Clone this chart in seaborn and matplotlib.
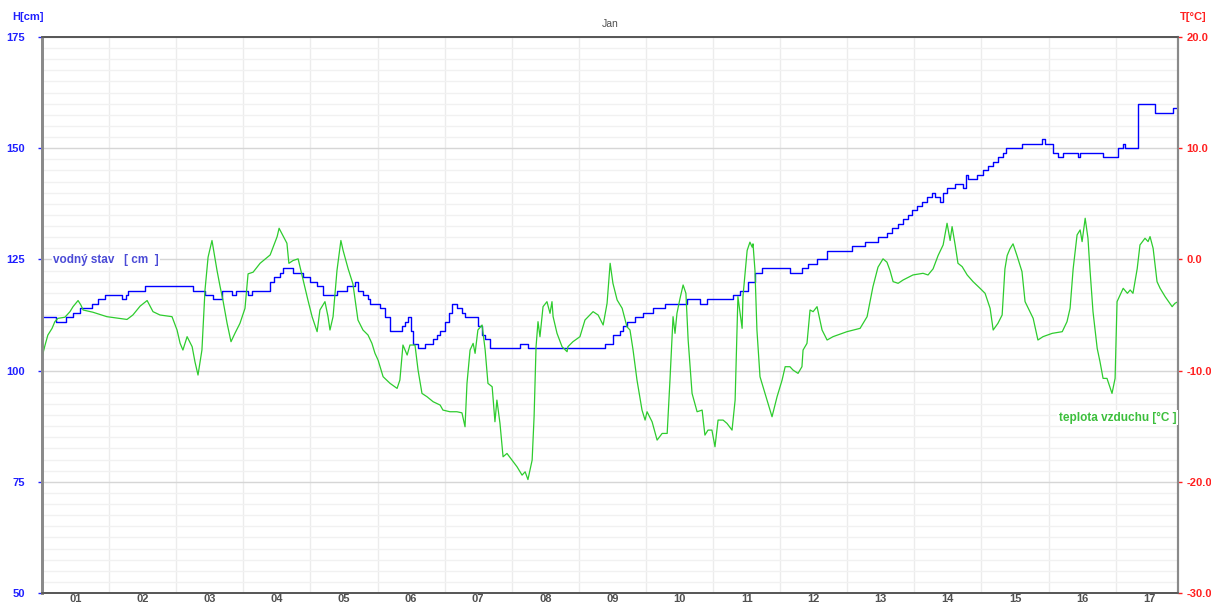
import matplotlib
matplotlib.use("Agg")
import pandas as pd
import matplotlib.pyplot as plt
import seaborn as sns
from matplotlib.ticker import MultipleLocator, FixedLocator

# water level (hours since 1 Jan 00:00, cm)
level_hours = [0, 5.0, 8.6, 11.1, 13.6, 17.9, 20.0, 22.5, 28.6, 30.0, 30.8, 36.8, 54.0, 58.3, 61.2,
               64.4, 68.0, 69.4, 73.7, 75.1, 81.6, 83.0, 85.1, 86.2, 89.8, 93.4, 95.9, 98.4, 100.5,
               105.5, 109.1, 112.0, 113.0, 114.8, 116.6, 117.3, 120.9, 122.7, 124.5, 128.8, 129.8,
               130.9, 132.0, 132.7, 134.5, 137.0, 139.9, 141.3, 142.4, 144.1, 145.6, 146.6, 148.4,
               150.2, 151.3, 155.9, 157.4, 158.5, 160.2, 171.0, 173.8, 201.4, 204.2, 206.7, 207.8,
               209.2, 212.1, 215.0, 218.5, 222.8, 230.7, 235.4, 237.9, 247.2, 249.7, 252.5, 255.0,
               257.5, 267.5, 271.8, 274.0, 277.2, 280.8, 289.7, 294.4, 299.0, 302.2, 304.0, 306.2,
               308.0, 309.8, 311.2, 313.0, 314.8, 316.5, 318.3, 319.4, 321.2, 322.3, 323.7, 326.6,
               329.4, 330.5, 331.2, 334.4, 336.6, 338.4, 340.2, 341.9, 343.7, 344.8, 350.5, 357.7,
               358.8, 361.6, 363.4, 365.2, 370.6, 371.3, 379.5, 384.9, 386.7, 387.4, 392.0, 398.1,
               404.5, 406.3]
level_cm = [112, 111, 112, 113, 114, 115, 116, 117, 116, 117, 118, 119, 118, 117, 116,
            118, 117, 118, 117, 118, 120, 121, 122, 123, 122, 121, 120, 119, 117,
            118, 119, 120, 118, 117, 116, 115, 114, 112, 109, 110, 111,
            112, 109, 106, 105, 106, 107, 108, 109, 111, 113, 115, 114,
            113, 112, 110, 108, 107, 105, 106, 105, 106, 108, 109, 110,
            111, 112, 113, 114, 115, 116, 115, 116, 117, 118, 120, 122,
            123, 122, 123, 124, 125, 127, 128, 129, 130, 131, 132, 133,
            134, 135, 136, 137, 138, 139, 140, 139, 138, 140, 141, 142,
            141, 144, 143, 144, 145, 146, 147, 148, 149, 150, 151, 152,
            151, 149, 148, 149, 148, 149, 148, 150, 151, 150, 160, 158,
            159, 159]

# air temperature (hours since 1 Jan 00:00, deg C)
temp_hours = [0, 1.1, 2.1, 3.6, 4.6, 5.7, 8.2, 10.0, 11.1, 12.9, 13.9, 14.7, 18.2, 23.2, 30.4,
              32.5, 35.1, 37.6, 39.7, 42.2, 46.5, 48.3, 49.4, 50.4, 51.9, 53.7, 54.7, 55.8, 57.2,
              58.3, 59.4, 60.8, 62.6, 63.7, 64.7, 66.2, 67.6, 69.0, 70.8, 72.6, 73.7, 75.5, 78.0,
              81.6, 84.1, 84.8, 87.6, 88.3, 89.8, 91.6, 93.4, 95.1, 96.6, 98.4, 99.4, 101.2, 102.3,
              103.0, 104.1, 105.5, 106.9, 107.7, 109.5, 111.2, 113.0, 114.8, 116.6, 118.0, 119.1,
              120.2, 122.0, 124.5, 127.0, 128.0, 129.1, 130.6, 131.6, 133.4, 134.5, 135.9, 137.7,
              139.9, 142.4, 143.4, 145.9, 148.4, 150.2, 151.3, 152.0, 153.1, 154.2, 154.9, 155.9,
              157.4, 158.5, 159.5, 161.0, 162.0, 162.7, 163.8, 164.9, 166.3, 168.1, 169.9, 171.7,
              172.8, 173.8, 175.3, 176.0, 176.7, 177.4, 178.1, 179.2, 180.6, 181.7, 182.4, 182.8,
              184.2, 186.0, 187.8, 188.1, 189.9, 192.4, 194.2, 197.1, 198.9, 200.7, 202.1, 203.2,
              204.2, 205.7, 207.5, 209.2, 210.3, 211.4, 212.8, 214.6, 215.7, 216.4, 218.2, 220.0,
              221.8, 223.6, 224.6, 225.7, 226.4, 227.1, 228.2, 229.3, 230.3, 231.1, 232.5, 234.3,
              236.1, 237.1, 238.2, 239.6, 240.7, 241.8, 243.6, 245.0, 246.8, 247.9, 248.6, 248.9,
              250.4, 250.7, 252.2, 253.2, 254.0, 254.3, 255.0, 255.7, 256.8, 259.3, 261.1, 262.9,
              264.7, 265.8, 267.5, 268.6, 270.4, 271.8, 272.2, 273.6, 274.7, 275.8, 277.2, 279.0,
              280.8, 282.9, 287.9, 292.6, 295.1, 297.2, 299.0, 300.8, 302.2, 303.3, 304.4, 306.2,
              308.0, 311.5, 315.1, 316.9, 318.7, 320.5, 322.3, 323.7, 324.8, 325.5, 326.6, 327.6,
              329.1, 330.9, 333.0, 335.5, 337.3, 339.1, 340.2, 341.9, 343.4, 344.4, 345.2, 346.2,
              347.3, 348.7, 350.5, 351.6, 354.5, 356.2, 358.0, 361.3, 364.9, 366.6, 367.7, 368.8,
              370.2, 371.3, 372.0, 373.1, 374.1, 374.8, 375.9, 377.4, 378.4, 379.5, 380.9, 382.7,
              383.8, 384.5, 385.6, 386.7, 388.2, 389.2, 390.2, 391.7, 392.7, 394.5, 395.6, 396.3,
              397.4, 398.8, 399.9, 401.7, 404.2, 405.2, 406.3]
temp_c = [-8.8, -7.7, -6.8, -6.2, -5.6, -5.3, -5.2, -4.7, -4.25, -3.7, -4.1, -4.55, -4.75, -5.15, -5.4,
          -5.0, -4.2, -3.7, -4.7, -5.0, -5.15, -6.35, -7.55, -8.15, -6.95, -7.85, -9.2, -10.4, -8.15,
          -2.75, 0.2, 1.7, -1.0, -2.45, -3.65, -5.75, -7.4, -6.65, -5.75, -4.4, -1.3, -1.15, -0.35,
          0.4, 2.05, 2.8, 1.45, -0.35, -0.1, 0.05, -1.85, -3.65, -5.15, -6.5, -4.55, -3.8, -5.15,
          -6.35, -5.15, -1.0, 1.7, 0.8, -0.85, -2.2, -5.45, -6.35, -6.8, -7.55, -8.45,
          -9.05, -10.55, -11.15, -11.6, -10.85, -7.7, -8.6, -7.7, -7.7, -9.95, -12.05, -12.35,
          -12.8, -13.1, -13.55, -13.7, -13.7, -13.8, -15.05, -11.15, -8.15, -7.55, -8.45, -6.35,
          -5.9, -8.15, -11.15, -11.45, -14.6, -12.65, -14.75, -17.75, -17.45, -18.05, -18.65, -19.4,
          -19.1, -19.8, -18.05, -14.15, -7.85, -5.6, -6.95, -4.25, -3.8, -4.85, -3.8, -5.15,
          -6.65, -7.85, -8.3, -7.85, -7.4, -6.95, -5.45, -4.7, -5.0, -5.9, -3.95, -0.35,
          -2.15, -3.65, -4.4, -6.05, -6.35, -8.15, -10.85, -13.55, -14.45, -13.7, -14.6, -16.25,
          -15.65, -15.65, -10.85, -5.15, -6.65, -4.85, -3.5, -2.3, -3.05, -7.25, -12.05, -13.7,
          -13.55, -15.8, -15.35, -15.35, -16.85, -14.45, -14.45, -14.75, -15.35, -12.65, -6.35, -3.35,
          -6.2, -3.35, 0.8, 1.55, 1.1, 1.4, -1.0, -6.35, -10.55, -12.65, -14.15, -12.35,
          -10.85, -9.65, -9.65, -9.95, -10.25, -9.65, -8.15, -7.55, -4.55, -4.7, -4.25, -6.35,
          -7.25, -6.95, -6.5, -6.2, -5.15, -2.45, -0.7, 0.05, -0.25, -1.0, -2.0, -2.15,
          -1.85, -1.4, -1.25, -1.4, -0.85, 0.35, 1.3, 3.25, 1.7, 2.95, 1.3, -0.35,
          -0.65, -1.4, -2.0, -2.6, -3.05, -4.4, -6.35, -5.75, -5.0, -0.85, 0.35, 0.95,
          1.4, 0.35, -1.1, -3.8, -5.3, -7.25, -6.95, -6.65, -6.5, -5.6, -4.4, -0.85,
          2.2, 2.65, 1.6, 3.7, 1.9, -0.85, -4.7, -8.0, -9.2, -10.7, -10.7, -12.05,
          -10.7, -3.8, -3.2, -2.6, -3.05, -2.75, -3.05, -0.85, 1.3, 1.9, 1.6, 2.05,
          1.0, -2.0, -2.6, -3.35, -4.25, -3.95, -3.8]

day_labels = ["%02d" % d for d in range(1, 18)]
temp_ticks = [-30, -20, -10, 0, 10, 20]

BLUE = "#2020ff"
RED = "#ff2020"
GREEN = "#2ecc2e"
GREY = "#505050"

level = pd.DataFrame({"hour": level_hours, "cm": level_cm})
temp = pd.DataFrame({"hour": temp_hours, "degc": temp_c})

sns.set_style("white")
plt.rcParams["font.family"] = ["Liberation Sans", "DejaVu Sans"]

fig = plt.figure(figsize=(12.11, 6.04), dpi=100)
ax = fig.add_axes([42 / 1211, 11 / 604, 1136 / 1211, 556 / 604])

sns.lineplot(data=level, x="hour", y="cm", ax=ax, color="#0000ff", lw=1.0,
             estimator=None, sort=False, drawstyle="steps-post")
ax.set_xlim(0, 406.3)
ax.set_ylim(50, 175)
ax.set_xlabel("")
ax.set_ylabel("")

# grid: days (vertical), 2.5 cm minor, 25 cm major
ax.xaxis.set_major_locator(FixedLocator([12 + 24 * i for i in range(17)]))
ax.xaxis.set_minor_locator(FixedLocator([24 * i for i in range(1, 17)]))
ax.set_xticklabels(day_labels)
ax.yaxis.set_major_locator(MultipleLocator(25))
ax.yaxis.set_minor_locator(MultipleLocator(2.5))
ax.xaxis.grid(True, which="minor", color="#ececec", lw=1)
ax.xaxis.grid(False, which="major")
ax.yaxis.grid(True, which="major", color="#d6d6d6", lw=1)
ax.yaxis.grid(True, which="minor", color="#f1f1f1", lw=1)
ax.set_axisbelow(True)

ax.tick_params(axis="x", which="both", length=0, pad=1, labelsize=8, labelcolor=GREY)
for t in ax.get_xticklabels():
    t.set_fontweight("bold")
ax.tick_params(axis="y", which="major", length=3, width=1, color=BLUE, pad=9,
               labelsize=8, labelcolor=BLUE)
ax.tick_params(axis="y", which="minor", length=0)
for t in ax.get_yticklabels():
    t.set_fontweight("bold")

ax2 = ax.twinx()
sns.lineplot(data=temp, x="hour", y="degc", ax=ax2, color=GREEN, lw=0.9,
             estimator=None, sort=False)
ax2.set_ylim(-30, 20)
ax2.set_ylabel("")
ax2.set_yticks(temp_ticks)
ax2.set_yticklabels(["%.1f" % v for v in temp_ticks])
ax2.tick_params(axis="y", length=3, width=1, color=RED, pad=3, labelsize=8, labelcolor=RED)
for t in ax2.get_yticklabels():
    t.set_fontweight("bold")
ax2.grid(False)

for a in (ax, ax2):
    a.spines["left"].set_color("#8a8a8a")
    a.spines["left"].set_linewidth(2)
    a.spines["right"].set_color("#8a8a8a")
    a.spines["right"].set_linewidth(1.5)
    a.spines["top"].set_color("#555555")
    a.spines["top"].set_linewidth(1.2)
    a.spines["bottom"].set_color("#555555")
    a.spines["bottom"].set_linewidth(1.2)

ax.text(0.0097, 0.599, "vodný stav   [ cm  ]", transform=ax.transAxes, color="#4b4bd6",
        fontsize=8.5, fontweight="bold", va="center", ha="left",
        bbox=dict(facecolor="white", edgecolor="none", pad=1))
ax2.text(0.9985, 0.315, "teplota vzduchu [°C ]", transform=ax.transAxes, color="#3cbf3c",
         fontsize=8.5, fontweight="bold", va="center", ha="right",
         bbox=dict(facecolor="white", edgecolor="none", pad=1))

fig.text(12 / 1211, 1 - 17 / 604, "H[cm]", color=BLUE, fontsize=8, fontweight="bold",
         ha="left", va="center")
fig.text(1207 / 1211, 1 - 17 / 604, "T[°C]", color=RED, fontsize=8, fontweight="bold",
         ha="right", va="center")
fig.text(610 / 1211, 1 - 24 / 604, "Jan", color=GREY, fontsize=7.5, ha="center", va="center")

fig.savefig("out.png", dpi=100)
